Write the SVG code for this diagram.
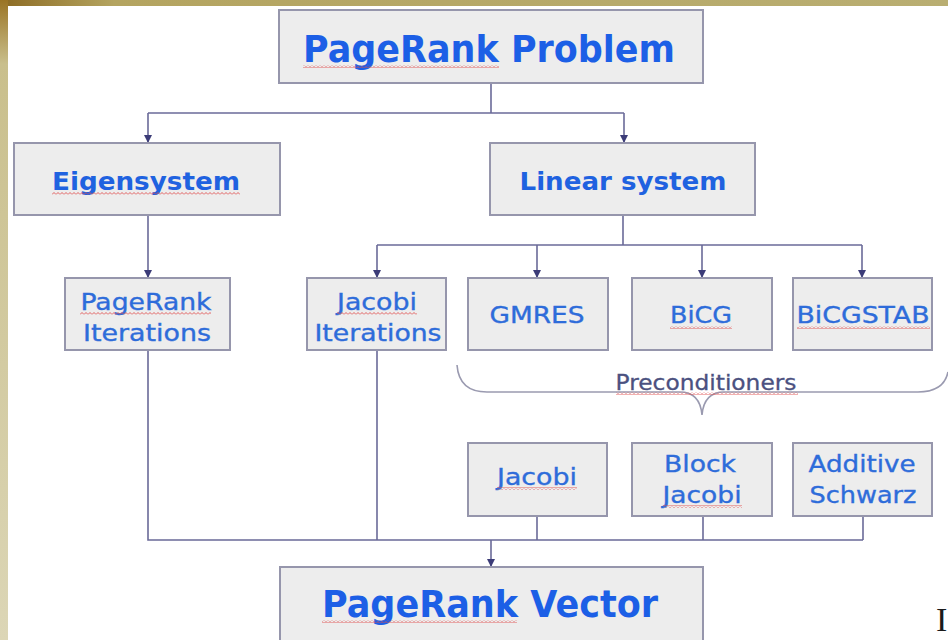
<svg xmlns="http://www.w3.org/2000/svg" width="948" height="640" viewBox="0 0 948 640">
  <defs>
    <style>
      .box { fill: #ededed; stroke: #9696ac; stroke-width: 2; }
      .con { fill: none; stroke: #6a6a98; stroke-width: 1.6; }
      .brace { fill: none; stroke: #9a9ab0; stroke-width: 1.6; }
      .t1 { font-family: 'DejaVu Sans', Verdana, sans-serif; font-weight: bold; font-size: 38px; fill: #1c5fe6; text-anchor: middle; }
      .t2 { font-family: 'DejaVu Sans', Verdana, sans-serif; font-weight: bold; font-size: 24px; fill: #1f62e0; text-anchor: middle; }
      .t3 { font-family: 'DejaVu Sans', Verdana, sans-serif; font-size: 23px; fill: #2e6cda; stroke: #2e6cda; stroke-width: 0.35; text-anchor: middle; }
      .pc { font-family: 'DejaVu Sans', Verdana, sans-serif; font-size: 21px; fill: #4b5180; stroke: #4b5180; stroke-width: 0.3; text-anchor: middle; }
      .sp { fill: url(#wavy); }
    </style>
    <marker id="arr" markerUnits="userSpaceOnUse" markerWidth="9" markerHeight="9" refX="8" refY="4.5" orient="auto" viewBox="0 0 9 9">
      <path d="M0,0.5 L8,4.5 L0,8.5 Z" fill="#3c3c78"/>
    </marker>
    <pattern id="wavy" patternUnits="userSpaceOnUse" width="4" height="3">
      <path d="M0,2.5 L2,0.5 L4,2.5" fill="none" stroke="#e05050" stroke-width="0.9"/>
    </pattern>
    <linearGradient id="topg" x1="0" y1="0" x2="1" y2="0">
      <stop offset="0" stop-color="#8c6a22"/>
      <stop offset="0.12" stop-color="#b4a460"/>
      <stop offset="1" stop-color="#b9ae72"/>
    </linearGradient>
    <linearGradient id="leftg" x1="0" y1="0" x2="0" y2="1">
      <stop offset="0" stop-color="#9a7424"/>
      <stop offset="0.1" stop-color="#c9bf8c"/>
      <stop offset="1" stop-color="#dcd6b6"/>
    </linearGradient>
  </defs>

  <rect x="0" y="0" width="948" height="640" fill="#ffffff"/>
  <rect x="0" y="0" width="948" height="6" fill="url(#topg)"/>
  <rect x="0" y="0" width="8" height="640" fill="url(#leftg)"/>

  <g id="connectors">
    <path class="con" d="M491,83 V113"/>
    <path class="con" d="M148,113 H624"/>
    <path class="con" d="M148,113 V143" marker-end="url(#arr)"/>
    <path class="con" d="M624,113 V143" marker-end="url(#arr)"/>
    <path class="con" d="M148,215 V278" marker-end="url(#arr)"/>
    <path class="con" d="M623,215 V245"/>
    <path class="con" d="M377,245 H862"/>
    <path class="con" d="M377,245 V278" marker-end="url(#arr)"/>
    <path class="con" d="M537,245 V278" marker-end="url(#arr)"/>
    <path class="con" d="M702,245 V278" marker-end="url(#arr)"/>
    <path class="con" d="M862,245 V278" marker-end="url(#arr)"/>
    <path class="con" d="M148,350 V540 H863"/>
    <path class="con" d="M377,350 V540"/>
    <path class="con" d="M537,516 V540"/>
    <path class="con" d="M703,516 V540"/>
    <path class="con" d="M863,516 V540"/>
    <path class="con" d="M491,540 V567" marker-end="url(#arr)"/>
  </g>

  <g id="brace">
    <path class="brace" d="M457,365 Q459,392 487,392 L680,392 Q700,392 702,415 Q704,392 724,392 L918,392 Q944,392 948,372"/>
    <text class="pc" x="706" y="390" textLength="181" lengthAdjust="spacingAndGlyphs">Preconditioners</text>
    <rect class="sp" x="616" y="392" width="182" height="3"/>
  </g>

  <g id="pagerank-problem">
    <rect class="box" x="279" y="10" width="424" height="73"/>
    <text class="t1" x="489" y="62" textLength="372" lengthAdjust="spacingAndGlyphs">PageRank Problem</text>
    <rect class="sp" x="303" y="65" width="196" height="3"/>
  </g>

  <g id="eigensystem">
    <rect class="box" x="14" y="143" width="266" height="72"/>
    <text class="t2" x="146" y="190" textLength="188" lengthAdjust="spacingAndGlyphs">Eigensystem</text>
    <rect class="sp" x="52" y="192" width="188" height="3"/>
  </g>

  <g id="linear-system">
    <rect class="box" x="490" y="143" width="265" height="72"/>
    <text class="t2" x="623" y="190" textLength="207" lengthAdjust="spacingAndGlyphs">Linear system</text>
  </g>

  <g id="pagerank-iterations">
    <rect class="box" x="65" y="278" width="165" height="72"/>
    <text class="t3" x="146" y="310" textLength="131" lengthAdjust="spacingAndGlyphs">PageRank</text>
    <rect class="sp" x="80" y="312" width="131" height="3"/>
    <text class="t3" x="147" y="341" textLength="128" lengthAdjust="spacingAndGlyphs">Iterations</text>
  </g>

  <g id="jacobi-iterations">
    <rect class="box" x="307" y="278" width="139" height="72"/>
    <text class="t3" x="377" y="310" textLength="80" lengthAdjust="spacingAndGlyphs">Jacobi</text>
    <rect class="sp" x="337" y="312" width="80" height="3"/>
    <text class="t3" x="378" y="341" textLength="127" lengthAdjust="spacingAndGlyphs">Iterations</text>
  </g>

  <g id="gmres">
    <rect class="box" x="468" y="278" width="140" height="72"/>
    <text class="t3" x="537" y="323" textLength="95" lengthAdjust="spacingAndGlyphs">GMRES</text>
  </g>

  <g id="bicg">
    <rect class="box" x="632" y="278" width="140" height="72"/>
    <text class="t3" x="701" y="323" textLength="62" lengthAdjust="spacingAndGlyphs">BiCG</text>
    <rect class="sp" x="670" y="326" width="62" height="3"/>
  </g>

  <g id="bicgstab">
    <rect class="box" x="793" y="278" width="139" height="72"/>
    <text class="t3" x="863" y="323" textLength="133" lengthAdjust="spacingAndGlyphs">BiCGSTAB</text>
    <rect class="sp" x="797" y="326" width="133" height="3"/>
  </g>

  <g id="jacobi">
    <rect class="box" x="468" y="443" width="139" height="73"/>
    <text class="t3" x="537" y="485" textLength="80" lengthAdjust="spacingAndGlyphs">Jacobi</text>
    <rect class="sp" x="497" y="487" width="80" height="3"/>
  </g>

  <g id="block-jacobi">
    <rect class="box" x="632" y="443" width="140" height="73"/>
    <text class="t3" x="700" y="472" textLength="72" lengthAdjust="spacingAndGlyphs">Block</text>
    <text class="t3" x="702" y="503" textLength="79" lengthAdjust="spacingAndGlyphs">Jacobi</text>
    <rect class="sp" x="663" y="505" width="79" height="3"/>
  </g>

  <g id="additive-schwarz">
    <rect class="box" x="793" y="443" width="139" height="73"/>
    <text class="t3" x="862" y="472" textLength="107" lengthAdjust="spacingAndGlyphs">Additive</text>
    <text class="t3" x="863" y="503" textLength="107" lengthAdjust="spacingAndGlyphs">Schwarz</text>
  </g>

  <g id="pagerank-vector">
    <rect class="box" x="280" y="567" width="423" height="80"/>
    <text class="t1" x="490" y="617" textLength="336" lengthAdjust="spacingAndGlyphs">PageRank Vector</text>
    <rect class="sp" x="322" y="620" width="195" height="3"/>
  </g>

  <text x="936" y="631" font-family="'Liberation Serif', serif" font-size="34" fill="#1a1a1a">I</text>
</svg>
